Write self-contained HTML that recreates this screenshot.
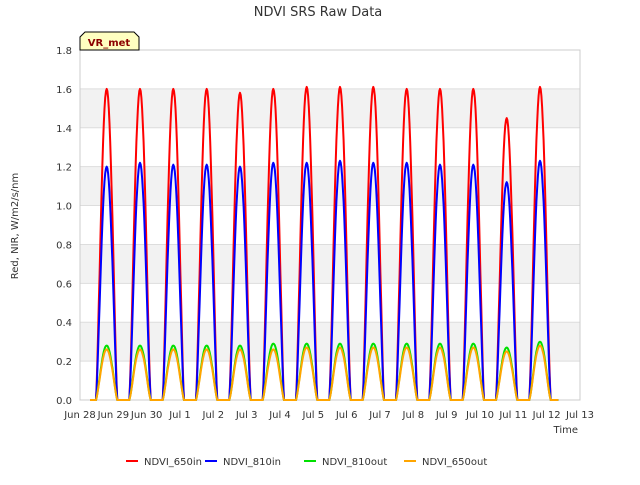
<!DOCTYPE html>
<html><head><meta charset="utf-8"><style>
body{margin:0;background:#fff;font-family:"Liberation Sans",sans-serif}
svg text{font-family:"DejaVu Sans","Liberation Sans",sans-serif}
</style></head><body>
<svg id="c" width="640" height="480" xmlns="http://www.w3.org/2000/svg">
<rect width="640" height="480" fill="#fff"/>
<text x="318" y="16" text-anchor="middle" font-size="13" fill="#333">NDVI SRS Raw Data</text>
<g id="plot"></g>
<text transform="translate(18,226) rotate(-90)" text-anchor="middle" font-size="10" fill="#333">Red, NIR, W/m2/s/nm</text>
<text x="578" y="433" text-anchor="end" font-size="10" fill="#333">Time</text>
<g>
<path d="M80,50 L80,37 L85,32 L134,32 L139,37 L139,50 Z" fill="#ffffc0" stroke="#000" stroke-width="1"/>
<text x="109" y="46" text-anchor="middle" font-size="10" font-weight="bold" fill="#8b0000">VR_met</text>
</g>
<g id="legend"></g>
</svg>
<script>
const dayLabels=["Jun 28","Jun 29","Jun 30","Jul 1","Jul 2","Jul 3","Jul 4","Jul 5","Jul 6","Jul 7","Jul 8","Jul 9","Jul 10","Jul 11","Jul 12","Jul 13"];
const yTicks=[0.0,0.2,0.4,0.6,0.8,1.0,1.2,1.4,1.6,1.8];
const seriesNames=["NDVI_650in","NDVI_810in","NDVI_810out","NDVI_650out"];
const red=[1.60,1.60,1.60,1.60,1.58,1.60,1.61,1.61,1.61,1.60,1.60,1.60,1.45,1.61];
const blue=[1.20,1.22,1.21,1.21,1.20,1.22,1.22,1.23,1.22,1.22,1.21,1.21,1.12,1.23];
const green=[0.28,0.28,0.28,0.28,0.28,0.29,0.29,0.29,0.29,0.29,0.29,0.29,0.27,0.30];
const orange=[0.26,0.26,0.26,0.26,0.26,0.26,0.27,0.27,0.27,0.27,0.27,0.27,0.25,0.28];
const X0=80,X1=580,Y0=400,Y1=50;
const xs=d=>X0+(X1-X0)*d/15;
const ys=v=>Y0-(Y0-Y1)*v/1.8;
const NS="http://www.w3.org/2000/svg";
const plot=document.getElementById('plot');
function mk(t,a,p){const e=document.createElementNS(NS,t);for(const k in a)e.setAttribute(k,a[k]);(p||plot).appendChild(e);return e;}
for(let i=0;i<yTicks.length-1;i++){
 if(i%2===1){const b=mk('rect',{x:X0,y:ys(yTicks[i+1]),width:X1-X0,height:ys(yTicks[i])-ys(yTicks[i+1]),fill:'#f2f2f2'});
 
 }
}
yTicks.forEach(v=>{
 const l=mk('line',{x1:X0,x2:X1,y1:ys(v),y2:ys(v),stroke:'#ddd','stroke-width':1});
 
 
 const t=mk('text',{x:X0-8,y:ys(v)+4,'text-anchor':'end','font-size':10,fill:'#333'});
 t.textContent=v.toFixed(1);
 
 
});
const fr=mk('rect',{x:X0,y:Y1,width:X1-X0,height:Y0-Y1,fill:'none',stroke:'#ccc'});


dayLabels.forEach((s,i)=>{
 const t=mk('text',{x:xs(i),y:Y0+18,'text-anchor':'middle','font-size':10,fill:'#333'});
 t.textContent=s;
 
 
});
function series(peaks,color,w,name){
 let pts=[[xs(0.3),ys(0)]];
 peaks.forEach((p,d)=>{
  const s=d+0.48,e=d+1.12;
  pts.push([xs(s),ys(0)]);
  for(let k=0;k<=30;k++){const f=k/30;const v=p*Math.pow(Math.sin(Math.PI*f),1.3);pts.push([xs(s+(e-s)*f),ys(v)]);}
 });
 pts.push([xs(peaks.length+0.35),ys(0)]);
 const pl=mk('polyline',{points:pts.map(q=>q[0].toFixed(1)+','+q[1].toFixed(1)).join(' '),fill:'none',stroke:color,'stroke-width':w,'stroke-linejoin':'round'});
 
 
}
series(red,'#ff0000',2,'ndvi-650in');
series(blue,'#0000ff',2,'ndvi-810in');
series(green,'#00e000',2,'ndvi-810out');
series(orange,'#ffa500',2,'ndvi-650out');
const colors=['#ff0000','#0000ff','#00e000','#ffa500'];
const lx=[126,205,304,404];
const lg=document.getElementById('legend');
seriesNames.forEach((n,i)=>{
 const g=mk('g',{},lg);
 
 
 mk('line',{x1:lx[i],x2:lx[i]+12,y1:461,y2:461,stroke:colors[i],'stroke-width':2},g);
 const t=mk('text',{x:lx[i]+18,y:465,'font-size':10,fill:'#333'},g);
 t.textContent=n;
});
</script>
</body></html>
